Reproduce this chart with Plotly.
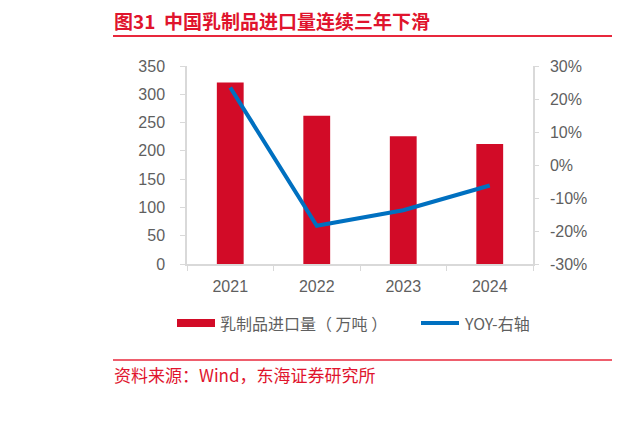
import plotly.graph_objects as go

years = ["2021", "2022", "2023", "2024"]
imports = [321, 262, 226, 212]          # 乳制品进口量（万吨）
yoy = [23.5, -18.4, -13.7, -6.2]        # YOY, %
yoy_ticks = [-30, -20, -10, 0, 10, 20, 30]

RED = "#d20b27"
BLUE = "#0070c0"
GRAY = "#5f5f5f"
AXIS = "#d9d9d9"
CJK = "Noto Sans CJK SC"
LAT = "Liberation Sans, Arial"

# page body has an 8px margin, so the figure is drawn 8px in from the window corner
OFF = 8
W, H = 640 - OFF, 421 - OFF
L, R, T, B = 187 - OFF, 533 - OFF, 66 - OFF, 264 - OFF   # plot area, figure pixels


def px(x):
    # x given in window pixels
    return (x - OFF - L) / (R - L)


def py(y):
    return (B - (y - OFF)) / (B - T)


fig = go.Figure()
fig.add_trace(go.Bar(
    x=years, y=imports, name="乳制品进口量（万吨）",
    marker=dict(color=RED, line=dict(width=0)),
    width=0.31, showlegend=False))
fig.add_trace(go.Scatter(
    x=years, y=yoy, name="YOY-右轴", yaxis="y2", mode="lines",
    line=dict(color=BLUE, width=4), showlegend=False))

shapes = [
    # title and source rules
    dict(type="line", xref="paper", yref="paper", x0=px(113), x1=px(612),
         y0=py(36), y1=py(36), line=dict(color="#e8283c", width=2)),
    dict(type="line", xref="paper", yref="paper", x0=px(636), x1=px(660),
         y0=py(36), y1=py(36), line=dict(color="#e8283c", width=2)),
    dict(type="line", xref="paper", yref="paper", x0=px(113), x1=px(612),
         y0=py(360), y1=py(360), line=dict(color="#e8283c", width=1.5)),
    dict(type="line", xref="paper", yref="paper", x0=px(636), x1=px(660),
         y0=py(360), y1=py(360), line=dict(color="#e8283c", width=1.5)),
    # legend keys
    dict(type="rect", xref="paper", yref="paper", x0=px(177), x1=px(215),
         y0=py(327), y1=py(319), fillcolor=RED, line=dict(width=0)),
    dict(type="line", xref="paper", yref="paper", x0=px(421), x1=px(459),
         y0=py(323), y1=py(323), line=dict(color=BLUE, width=4)),
]

annotations = [
    dict(text="<b>图31  中国乳制品进口量连续三年下滑</b>", x=px(112), y=py(20),
         xref="paper", yref="paper", xanchor="left", yanchor="middle",
         showarrow=False, font=dict(family=CJK, size=19, color="#e0142d")),
    dict(text="<b>图</b>", x=px(635), y=py(20),
         xref="paper", yref="paper", xanchor="left", yanchor="middle",
         showarrow=False, font=dict(family=CJK, size=19, color="#e0142d")),
    dict(text="资料来源：Wind，东海证券研究所", x=px(112), y=py(374),
         xref="paper", yref="paper", xanchor="left", yanchor="middle",
         showarrow=False, font=dict(family=CJK, size=17, color="#e0142d")),
    dict(text="资", x=px(635), y=py(374),
         xref="paper", yref="paper", xanchor="left", yanchor="middle",
         showarrow=False, font=dict(family=CJK, size=17, color="#e0142d")),
    dict(text="乳制品进口量（ 万吨 ）", x=px(218), y=py(323),
         xref="paper", yref="paper", xanchor="left", yanchor="middle",
         showarrow=False, font=dict(family=CJK, size=16, color=GRAY)),
    dict(text="YOY-右轴", x=px(462), y=py(323),
         xref="paper", yref="paper", xanchor="left", yanchor="middle",
         showarrow=False, font=dict(family=CJK, size=16, color=GRAY)),
]

fig.update_layout(
    width=W, height=H,
    margin=dict(l=L, r=W - R, t=T, b=H - B, pad=0),
    paper_bgcolor="white", plot_bgcolor="white",
    shapes=shapes, annotations=annotations,
    xaxis=dict(type="category", showgrid=False, showline=True, linecolor=AXIS,
               linewidth=1.5, ticks="outside", tickcolor=AXIS, ticklen=5,
               tickson="boundaries", ticklabelstandoff=7,
               tickfont=dict(family=LAT, size=16, color=GRAY)),
    yaxis=dict(range=[0, 350], dtick=50, showgrid=False, zeroline=False,
               showline=True, linecolor=AXIS, linewidth=1.5, ticks="outside",
               tickcolor=AXIS, ticklen=5, ticklabelstandoff=12,
               tickfont=dict(family=LAT, size=16, color=GRAY)),
    yaxis2=dict(range=[-30, 30], tickvals=yoy_ticks,
                ticktext=[f"{v}%" for v in yoy_ticks],
                overlaying="y", side="right",
                showgrid=False, zeroline=False, showline=True, linecolor=AXIS,
                linewidth=1.5, ticks="outside", tickcolor=AXIS, ticklen=4,
                ticklabelstandoff=8,
                tickfont=dict(family=LAT, size=16, color=GRAY)),
    bargap=0.69,
)

fig.write_html("out.html")
